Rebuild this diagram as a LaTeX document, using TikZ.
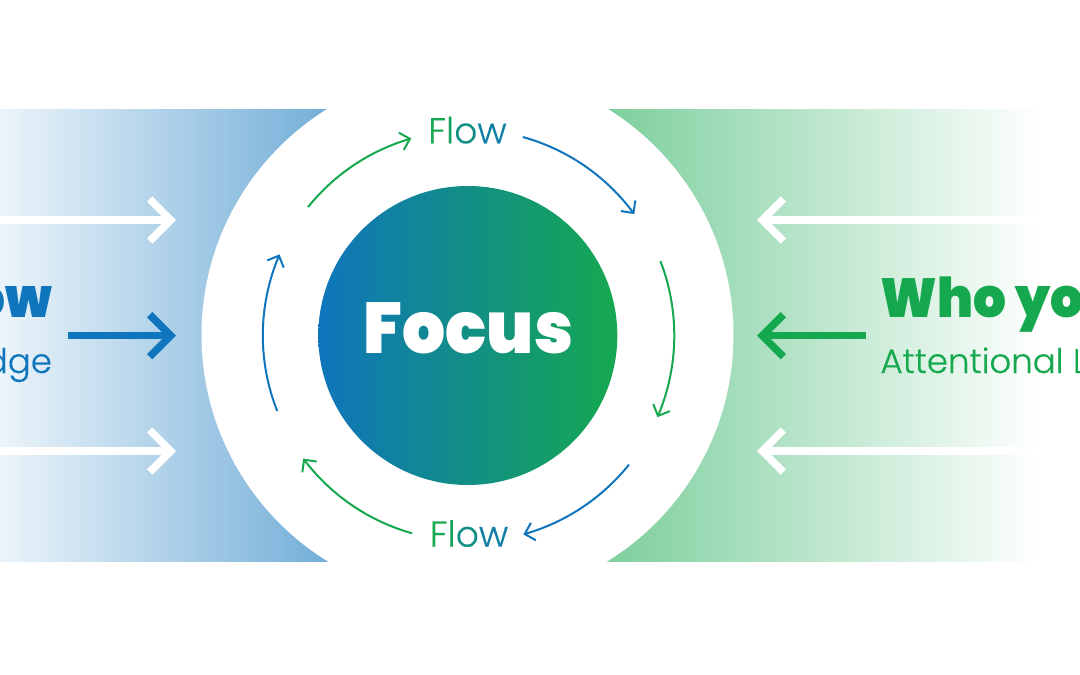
\documentclass[tikz,border=0pt]{standalone}
\usepackage{fontspec}
\usetikzlibrary{arrows.meta,bending,calc}
\setmainfont{Poppins}
\newfontfamily\heavy{Poppins Black}[FakeStretch=0.94]
\newfontfamily\lightf{Poppins Light}[FakeBold=0.3]
\definecolor{bluec}{HTML}{0F75BC}
\definecolor{greenc}{HTML}{15A84F}
\pgfdeclarehorizontalshading{leftband}{100bp}{color(0bp)=(bluec!8!white); color(25bp)=(bluec!8!white); color(75bp)=(bluec!60!white); color(100bp)=(bluec!60!white)}
\pgfdeclarehorizontalshading{rightband}{100bp}{color(0bp)=(greenc!57!white); color(25bp)=(greenc!57!white); color(71bp)=(white); color(100bp)=(white)}
\pgfdeclarehorizontalshading{corefill}{100bp}{color(0bp)=(bluec); color(25bp)=(bluec); color(75bp)=(greenc); color(100bp)=(greenc)}
\tikzset{
  x=1pt,y=-1pt,
  txt/.style={inner sep=0pt,outer sep=0pt},
  bigarrow/.style={line width=7.5pt,line cap=butt,-{Straight Barb[length=21pt,width=42pt,line width=7.5pt]}},
  ringarrow/.style={line width=2pt,line cap=butt,-{Straight Barb[length=9pt,width=18pt,line width=2pt,flex]}},
  subfont/.style={font=\lightf\fontsize{34}{34}\selectfont},
  headfont/.style={font=\heavy\fontsize{55}{55}\selectfont},
}
\newcommand{\flowword}{\textcolor{greenc}{F}\textcolor{greenc!88!bluec}{l}\textcolor{greenc!50!bluec}{o}\textcolor{greenc!20!bluec}{w}}
\begin{document}
\begin{tikzpicture}
\useasboundingbox (0,0) rectangle (1080,675);
\fill[white] (0,0) rectangle (1080,675);
% bands
\shade[shading=leftband] (0,109.3) rectangle (340,561.5);
\shade[shading=rightband] (595,109.3) rectangle (1080,561.5);
\fill[white] (467.5,335) circle (266pt);
% centre
\coordinate (c) at (467.8,335.5);
\shade[shading=corefill] (c) circle (149.5pt);
\node[txt,anchor=base,text=white,font=\heavy\fontsize{72}{72}\selectfont] (focus) at (468.5,353) {Focus};
% flow labels
\node[txt,anchor=base,font=\lightf\fontsize{36}{36}\selectfont] (flowtop) at (467.5,143.3) {\flowword};
\node[txt,anchor=base,font=\lightf\fontsize{36}{36}\selectfont] (flowbot) at (469,546.7) {\flowword};
% ring arrows
\draw[ringarrow,bluec] ($(c)+(74.5:206pt)$) coordinate (a1) arc[start angle=74.5,end angle=36.1,radius=206pt];
\draw[ringarrow,greenc] ($(c)+(21.1:206.5pt)$) coordinate (a2) arc[start angle=21.1,end angle=-23.3,radius=206.5pt];
\draw[ringarrow,bluec] ($(c)+(-38.7:206.5pt)$) coordinate (a3) arc[start angle=-38.7,end angle=-74.4,radius=206.5pt];
\draw[ringarrow,greenc] ($(c)+(254.3:205.5pt)$) coordinate (a4) arc[start angle=254.3,end angle=216.8,radius=205.5pt];
\draw[ringarrow,bluec] ($(c)+(201.6:205pt)$) coordinate (a5) arc[start angle=201.6,end angle=156.7,radius=205pt];
\draw[ringarrow,greenc] ($(c)+(141.2:205pt)$) coordinate (a6) arc[start angle=141.2,end angle=106,radius=205pt];
% straight arrows
\coordinate (l1s) at (0,220); \coordinate (l1e) at (176,220);
\coordinate (l2s) at (68,335.7); \coordinate (l2e) at (176,335.7);
\coordinate (l3s) at (0,451); \coordinate (l3e) at (176,451);
\coordinate (r1s) at (1080,220); \coordinate (r1e) at (757,220);
\coordinate (r2s) at (865.7,335.7); \coordinate (r2e) at (757,335.7);
\coordinate (r3s) at (1080,451); \coordinate (r3e) at (757,451);
\draw[bigarrow,white] (l1s) -- (l1e);
\draw[bigarrow,bluec] (l2s) -- (l2e);
\draw[bigarrow,white] (l3s) -- (l3e);
\draw[bigarrow,white] (r1s) -- (r1e);
\draw[bigarrow,greenc] (r2s) -- (r2e);
\draw[bigarrow,white] (r3s) -- (r3e);
% side texts
\node[txt,anchor=base east,headfont,text=bluec] (lhead) at (52,317) {ow};
\node[txt,anchor=base east,subfont,text=bluec] (lsub) at (52,373) {dge};
\node[txt,anchor=base west,headfont,text=greenc] (rhead) at (880.5,317) {Who yo};
\node[txt,anchor=base west,subfont,text=greenc] (rsub) at (880.5,373) {Attentional L};
\end{tikzpicture}
\end{document}
